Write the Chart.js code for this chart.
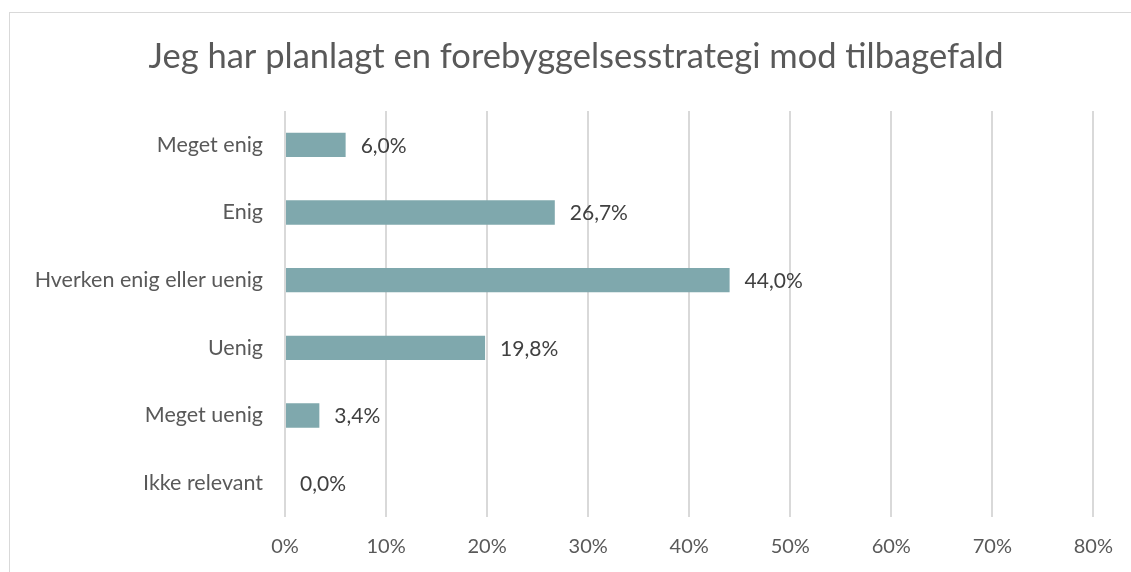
<!DOCTYPE html>
<html>
<head>
<meta charset="utf-8">
<script src="https://cdn.jsdelivr.net/npm/chart.js@4/dist/chart.umd.min.js"></script>
<style>
  html, body { margin:0; padding:0; background:#fff; overflow:hidden; }
  #wrap { position:relative; width:1131px; height:572px; }
  #frame { position:absolute; left:9px; top:12px; width:1200px; height:700px; border:1px solid #d9d9d9; }
  #chart { position:absolute; left:0; top:0; }
</style>
</head>
<body>
<div id="wrap">
  <div id="frame"></div>
  <canvas id="chart" width="1131" height="572"></canvas>
</div>
<script>
var title = 'Jeg har planlagt en forebyggelsesstrategi mod tilbagefald';
var categories = ['Meget enig', 'Enig', 'Hverken enig eller uenig', 'Uenig', 'Meget uenig', 'Ikke relevant'];
var values = [6.0, 26.7, 44.0, 19.8, 3.4, 0.0];
var xticks = [0, 10, 20, 30, 40, 50, 60, 70, 80];

var fontname = 'Lato, "Open Sans", sans-serif';

//draws the value next to each bar
var valuelabels = {
  id: 'valuelabels',
  afterDatasetsDraw: function(chart){
    var ctx = chart.ctx;
    var meta = chart.getDatasetMeta(0);
    ctx.save();
    ctx.font = '21px ' + fontname;
    ctx.fillStyle = '#404040';
    ctx.textAlign = 'left';
    ctx.textBaseline = 'middle';
    meta.data.forEach(function(bar, i){
      var txt = values[i].toFixed(1).replace('.', ',') + '%';
      ctx.fillText(txt, bar.x + 15, bar.y + 1);
    });
    ctx.restore();
  }
};

//title is centred on the frame, not on the canvas
var shifttitle = {
  id: 'shifttitle',
  afterLayout: function(chart){
    if(chart.titleBlock){
      chart.titleBlock.left += 58;
      chart.titleBlock.width = chart.titleBlock.right - chart.titleBlock.left;
    }
  }
};

var ctx = document.getElementById('chart').getContext('2d');
new Chart(ctx, {
  type: 'bar',
  data: {
    labels: categories,
    datasets: [{
      data: values,
      backgroundColor: '#7fa8ad',
      borderWidth: 0,
      categoryPercentage: 1,
      barPercentage: 0.36
    }]
  },
  plugins: [valuelabels, shifttitle],
  options: {
    indexAxis: 'y',
    responsive: false,
    animation: false,
    layout: { padding: { left: 0, right: 37, top: 0, bottom: 0 } },
    plugins: {
      legend: { display: false },
      tooltip: { enabled: false },
      title: {
        display: true,
        text: title,
        color: '#595959',
        font: { family: fontname, size: 34.5, weight: 'normal' },
        padding: { top: 36, bottom: 33.6 }
      }
    },
    scales: {
      x: {
        min: 0,
        max: 80,
        afterBuildTicks: function(scale){
          scale.ticks = xticks.map(function(v){ return { value: v }; });
        },
        afterFit: function(scale){ scale.height = 55; },
        grid: { color: '#d9d9d9', lineWidth: 2, drawTicks: false },
        border: { display: false },
        ticks: {
          padding: 18,
          color: '#595959',
          font: { family: fontname, size: 20 },
          callback: function(v){ return v + '%'; }
        }
      },
      y: {
        afterFit: function(scale){ scale.width = 285; },
        grid: { display: false, drawTicks: false },
        border: { display: false },
        ticks: {
          padding: 22,
          color: '#595959',
          font: { family: fontname, size: 21.5 }
        }
      }
    }
  }
});
</script>
</body>
</html>
